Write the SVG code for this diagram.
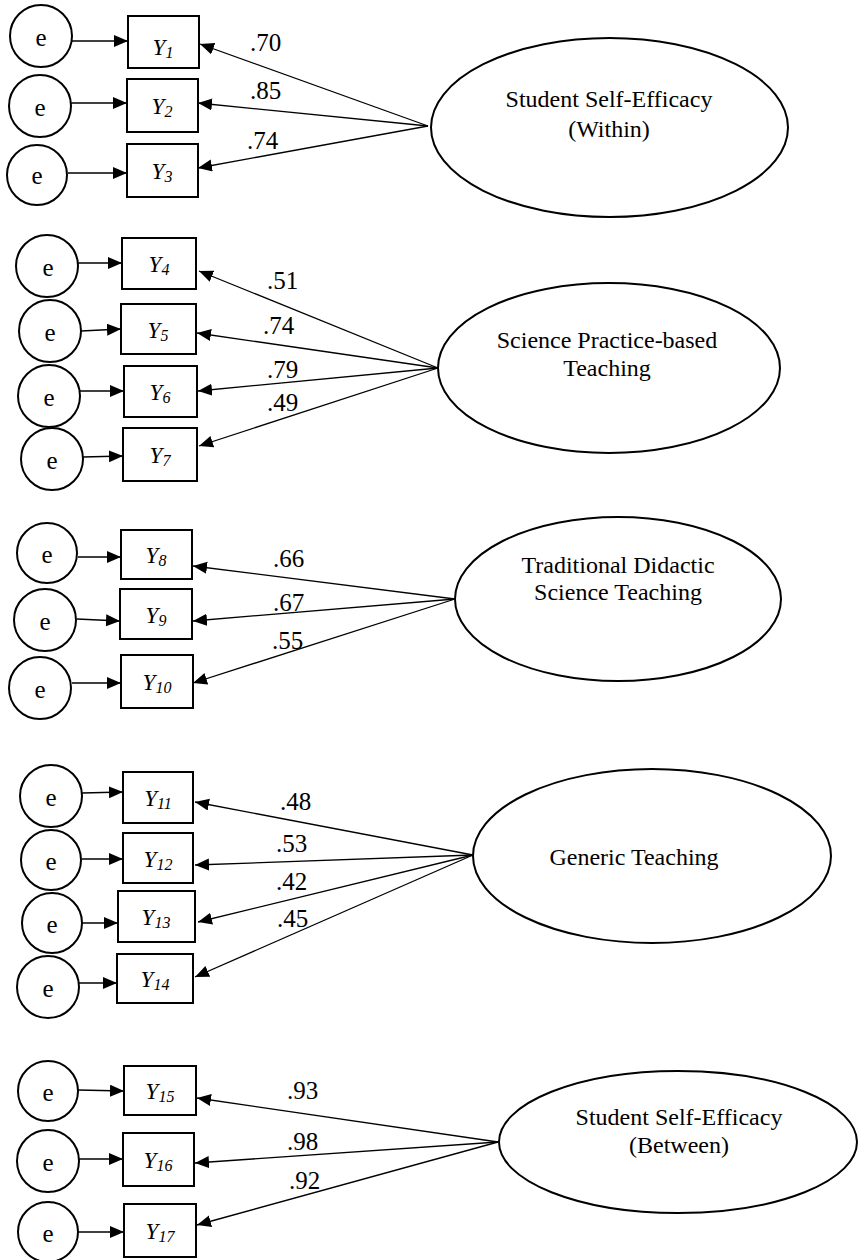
<svg xmlns="http://www.w3.org/2000/svg" width="859" height="1260" viewBox="0 0 859 1260">
<style>
.c{fill:#fff;stroke:#000;stroke-width:2}
.b{fill:#fff;stroke:#000;stroke-width:2}
.l{fill:#fff;stroke:#000;stroke-width:2}
.a{stroke:#000;stroke-width:1.3;fill:none;marker-end:url(#ah)}
.t{font-family:"Liberation Serif","Times New Roman",serif;fill:#000}
.e{font-size:25px;text-anchor:middle}
.y{font-size:23px;font-style:italic;text-anchor:middle}
.s{font-size:16px}
.n{font-size:25px}
.lt{font-size:24px;text-anchor:middle}
</style>
<defs>
<marker id="ah" markerUnits="userSpaceOnUse" markerWidth="15" markerHeight="13" refX="14" refY="6" orient="auto">
<path d="M0,0 L14,6 L0,12 z" fill="#000"/>
</marker>
</defs>
<rect width="859" height="1260" fill="#fff"/>
<g id="connectors">
<line class="a" x1="72" y1="41" x2="128" y2="41"/>
<line class="a" x1="71" y1="103" x2="127" y2="103"/>
<line class="a" x1="68" y1="173" x2="127" y2="173"/>
<line class="a" x1="428" y1="126" x2="200" y2="44"/>
<line class="a" x1="428" y1="126" x2="198" y2="103"/>
<line class="a" x1="428" y1="126" x2="198" y2="168"/>
<line class="a" x1="78" y1="263" x2="122" y2="263"/>
<line class="a" x1="81" y1="331" x2="121" y2="329"/>
<line class="a" x1="80" y1="391" x2="124" y2="391"/>
<line class="a" x1="83" y1="457" x2="123" y2="456"/>
<line class="a" x1="438" y1="368" x2="199" y2="271"/>
<line class="a" x1="438" y1="368" x2="197" y2="333"/>
<line class="a" x1="438" y1="368" x2="198" y2="391"/>
<line class="a" x1="438" y1="368" x2="199" y2="446"/>
<line class="a" x1="78" y1="557" x2="121" y2="557"/>
<line class="a" x1="77" y1="619" x2="120" y2="621"/>
<line class="a" x1="72" y1="683" x2="121" y2="683"/>
<line class="a" x1="455" y1="599" x2="193" y2="566"/>
<line class="a" x1="455" y1="599" x2="193" y2="621"/>
<line class="a" x1="455" y1="599" x2="193" y2="683"/>
<line class="a" x1="82" y1="793" x2="123" y2="792"/>
<line class="a" x1="82" y1="859" x2="123" y2="859"/>
<line class="a" x1="82" y1="923" x2="118" y2="923"/>
<line class="a" x1="79" y1="983" x2="117" y2="983"/>
<line class="a" x1="473" y1="855" x2="195" y2="802"/>
<line class="a" x1="473" y1="855" x2="195" y2="865"/>
<line class="a" x1="473" y1="855" x2="198" y2="922"/>
<line class="a" x1="473" y1="855" x2="195" y2="977"/>
<line class="a" x1="78" y1="1090" x2="124" y2="1091"/>
<line class="a" x1="79" y1="1159" x2="123" y2="1159"/>
<line class="a" x1="78" y1="1232" x2="124" y2="1232"/>
<line class="a" x1="498" y1="1142" x2="197" y2="1098"/>
<line class="a" x1="498" y1="1142" x2="195" y2="1163"/>
<line class="a" x1="498" y1="1142" x2="197" y2="1225"/>
</g>
<g id="loadings" class="t n">
<text x="250" y="51">.70</text>
<text x="250" y="99">.85</text>
<text x="247" y="149">.74</text>
<text x="267" y="289">.51</text>
<text x="263" y="334">.74</text>
<text x="267" y="378">.79</text>
<text x="267" y="411">.49</text>
<text x="273" y="567">.66</text>
<text x="273" y="611">.67</text>
<text x="272" y="649">.55</text>
<text x="280" y="810">.48</text>
<text x="276" y="852">.53</text>
<text x="276" y="890">.42</text>
<text x="277" y="927">.45</text>
<text x="287" y="1099">.93</text>
<text x="287" y="1150">.98</text>
<text x="289" y="1189">.92</text>
</g>
<g id="e1"><circle class="c" cx="41" cy="36" r="31"/><text class="t e" x="41" y="46">e</text></g>
<g id="e2"><circle class="c" cx="40" cy="106" r="31"/><text class="t e" x="40" y="116">e</text></g>
<g id="e3"><circle class="c" cx="37" cy="175" r="30"/><text class="t e" x="37" y="184">e</text></g>
<g id="e4"><circle class="c" cx="47" cy="266" r="31"/><text class="t e" x="48" y="276">e</text></g>
<g id="e5"><circle class="c" cx="50" cy="331" r="31"/><text class="t e" x="50" y="341">e</text></g>
<g id="e6"><circle class="c" cx="49" cy="396" r="31"/><text class="t e" x="49" y="406">e</text></g>
<g id="e7"><circle class="c" cx="52" cy="459" r="31"/><text class="t e" x="52" y="469">e</text></g>
<g id="e8"><circle class="c" cx="47" cy="553" r="30"/><text class="t e" x="47" y="563">e</text></g>
<g id="e9"><circle class="c" cx="45" cy="620" r="31"/><text class="t e" x="45" y="630">e</text></g>
<g id="e10"><circle class="c" cx="40" cy="688" r="31"/><text class="t e" x="40" y="698">e</text></g>
<g id="e11"><circle class="c" cx="51" cy="796" r="31"/><text class="t e" x="51" y="806">e</text></g>
<g id="e12"><circle class="c" cx="51" cy="860" r="30"/><text class="t e" x="51" y="870">e</text></g>
<g id="e13"><circle class="c" cx="52" cy="923" r="30"/><text class="t e" x="52" y="933">e</text></g>
<g id="e14"><circle class="c" cx="48" cy="987" r="31"/><text class="t e" x="48" y="997">e</text></g>
<g id="e15"><circle class="c" cx="48" cy="1091" r="30"/><text class="t e" x="48" y="1101">e</text></g>
<g id="e16"><circle class="c" cx="48" cy="1161" r="31"/><text class="t e" x="48" y="1171">e</text></g>
<g id="e17"><circle class="c" cx="48" cy="1232" r="30"/><text class="t e" x="48" y="1242">e</text></g>
<g id="Y1"><rect class="b" x="128" y="16" width="71" height="52"/><text class="t y" x="163" y="55">Y<tspan class="s" dy="3">1</tspan></text></g>
<g id="Y2"><rect class="b" x="127" y="79" width="71" height="53"/><text class="t y" x="162" y="114">Y<tspan class="s" dy="3">2</tspan></text></g>
<g id="Y3"><rect class="b" x="127" y="144" width="71" height="53"/><text class="t y" x="162" y="179">Y<tspan class="s" dy="3">3</tspan></text></g>
<g id="Y4"><rect class="b" x="122" y="238" width="74" height="51"/><text class="t y" x="159" y="272">Y<tspan class="s" dy="3">4</tspan></text></g>
<g id="Y5"><rect class="b" x="121" y="304" width="75" height="50"/><text class="t y" x="158" y="338">Y<tspan class="s" dy="3">5</tspan></text></g>
<g id="Y6"><rect class="b" x="124" y="366" width="73" height="51"/><text class="t y" x="160" y="400">Y<tspan class="s" dy="3">6</tspan></text></g>
<g id="Y7"><rect class="b" x="123" y="428" width="74" height="53"/><text class="t y" x="160" y="463">Y<tspan class="s" dy="3">7</tspan></text></g>
<g id="Y8"><rect class="b" x="121" y="530" width="71" height="49"/><text class="t y" x="156" y="563">Y<tspan class="s" dy="3">8</tspan></text></g>
<g id="Y9"><rect class="b" x="120" y="589" width="72" height="50"/><text class="t y" x="156" y="623">Y<tspan class="s" dy="3">9</tspan></text></g>
<g id="Y10"><rect class="b" x="121" y="655" width="72" height="53"/><text class="t y" x="157" y="690">Y<tspan class="s" dy="3">10</tspan></text></g>
<g id="Y11"><rect class="b" x="123" y="772" width="70" height="51"/><text class="t y" x="158" y="806">Y<tspan class="s" dy="3">11</tspan></text></g>
<g id="Y12"><rect class="b" x="123" y="833" width="70" height="50"/><text class="t y" x="158" y="867">Y<tspan class="s" dy="3">12</tspan></text></g>
<g id="Y13"><rect class="b" x="118" y="891" width="77" height="51"/><text class="t y" x="156" y="925">Y<tspan class="s" dy="3">13</tspan></text></g>
<g id="Y14"><rect class="b" x="117" y="954" width="76" height="49"/><text class="t y" x="155" y="987">Y<tspan class="s" dy="3">14</tspan></text></g>
<g id="Y15"><rect class="b" x="124" y="1066" width="72" height="49"/><text class="t y" x="160" y="1099">Y<tspan class="s" dy="3">15</tspan></text></g>
<g id="Y16"><rect class="b" x="123" y="1133" width="71" height="53"/><text class="t y" x="158" y="1168">Y<tspan class="s" dy="3">16</tspan></text></g>
<g id="Y17"><rect class="b" x="124" y="1204" width="72" height="53"/><text class="t y" x="160" y="1239">Y<tspan class="s" dy="3">17</tspan></text></g>
<g id="F1"><ellipse class="l" cx="609.5" cy="127.5" rx="178.5" ry="89.5"/><text class="t lt" x="609" y="107">Student Self-Efficacy</text><text class="t lt" x="609" y="137">(Within)</text></g>
<g id="F2"><ellipse class="l" cx="609" cy="368" rx="171" ry="85"/><text class="t lt" x="607" y="348">Science Practice-based</text><text class="t lt" x="607" y="376">Teaching</text></g>
<g id="F3"><ellipse class="l" cx="618" cy="599" rx="163" ry="82"/><text class="t lt" x="618" y="573">Traditional Didactic</text><text class="t lt" x="618" y="600">Science Teaching</text></g>
<g id="F4"><ellipse class="l" cx="652" cy="856" rx="179" ry="87"/><text class="t lt" x="634" y="865">Generic Teaching</text></g>
<g id="F5"><ellipse class="l" cx="678" cy="1142" rx="179" ry="71"/><text class="t lt" x="679" y="1125">Student Self-Efficacy</text><text class="t lt" x="679" y="1153">(Between)</text></g>
</svg>
